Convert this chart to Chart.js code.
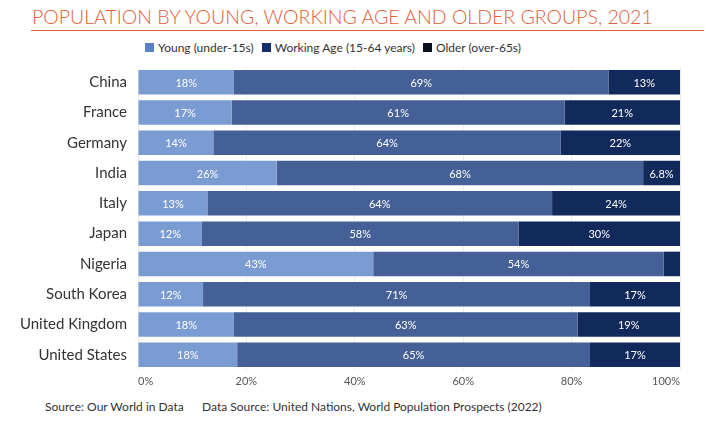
<!DOCTYPE html>
<html>
<head>
<meta charset="utf-8">
<script src="https://cdn.jsdelivr.net/npm/chart.js@4/dist/chart.umd.min.js"></script>
<style>
  html, body { margin: 0; padding: 0; background: #fff; }
  body { width: 706px; height: 428px; position: relative; overflow: hidden; font-family: Lato, "Open Sans", sans-serif; }
  #title { position: absolute; left: 32px; top: 5px; font-size: 19.5px; font-weight: 300; color: #e2613d; white-space: nowrap; }
  #rule { position: absolute; left: 31px; right: 2px; top: 30px; height: 1px; background: #e2613d; }
  #legend { position: absolute; top: 40px; left: 145px; display: flex; font-size: 12px; color: #333; white-space: nowrap; }
  #legend .it { display: flex; align-items: center; margin-right: 8px; }
  #legend .sw { width: 9px; height: 9px; margin-right: 4px; }
  #wrap { position: absolute; left: 0; top: 47px; width: 706px; height: 343px; }
  #foot { position: absolute; left: 45px; top: 399px; font-size: 12px; color: #333; white-space: pre; }
</style>
</head>
<body>
<div id="title">POPULATION BY YOUNG, WORKING AGE AND OLDER GROUPS, 2021</div>
<div id="rule"></div>
<div id="legend"></div>
<div id="wrap"><canvas id="c"></canvas></div>
<div id="foot">Source: Our World in Data      Data Source: United Nations, World Population Prospects (2022)</div>
<script>
const countries = ["China","France","Germany","India","Italy","Japan","Nigeria","South Korea","United Kingdom","United States"];
const young   = [17.7, 17.3, 13.9, 25.6, 12.8, 11.8, 43.4, 12.0, 17.7, 18.3];
const working = [69.1, 61.4, 64.1, 67.6, 63.6, 58.4, 53.6, 71.4, 63.4, 65.1];
const older   = [13.2, 21.3, 22.0,  6.8, 23.6, 29.8,  3.0, 16.6, 18.9, 16.6];
const seriesNames = ["Young (under-15s)", "Working Age (15-64 years)", "Older (over-65s)"];
const xTicks = [0, 20, 40, 60, 80, 100];

const barColors = ["#7b9bd3", "#455f97", "#112a5b"];
const legendColors = ["#5b80c3", "#132d69", "#0b0e1e"];

const lg = document.getElementById('legend');
seriesNames.forEach((n, i) => {
  const d = document.createElement('div'); d.className = 'it';
  const s = document.createElement('span'); s.className = 'sw'; s.style.background = legendColors[i];
  const t = document.createElement('span'); t.textContent = n;
  d.appendChild(s); d.appendChild(t); lg.appendChild(d);
});

function fmt(v) { return v < 10 ? v.toFixed(1) + '%' : Math.round(v) + '%'; }

const labelPlugin = {
  id: 'segLabels',
  afterDatasetsDraw(chart) {
    const ctx = chart.ctx;
    ctx.save();
    ctx.fillStyle = '#ffffff';
    ctx.font = '11px Lato, sans-serif';
    ctx.textAlign = 'center';
    ctx.textBaseline = 'middle';
    chart.data.datasets.forEach((ds, di) => {
      const meta = chart.getDatasetMeta(di);
      meta.data.forEach((bar, i) => {
        const v = ds.data[i];
        if (v < 5) return;
        const cx = (bar.x + bar.base) / 2;
        ctx.fillText(fmt(v), cx, bar.y + 1);
      });
    });
    ctx.restore();
  }
};

new Chart(document.getElementById('c'), {
  type: 'bar',
  data: {
    labels: countries,
    datasets: [
      { label: seriesNames[0], data: young, backgroundColor: barColors[0] },
      { label: seriesNames[1], data: working, backgroundColor: barColors[1] },
      { label: seriesNames[2], data: older, backgroundColor: barColors[2] }
    ]
  },
  options: {
    indexAxis: 'y',
    responsive: true,
    maintainAspectRatio: false,
    animation: false,
    layout: { padding: { top: 6, right: 26, left: 0, bottom: 0 } },
    datasets: { bar: { barPercentage: 0.81, categoryPercentage: 1.0, borderWidth: 0 } },
    plugins: { legend: { display: false }, tooltip: { enabled: false } },
    scales: {
      x: {
        stacked: true, min: 0, max: 100,
        z: 1,
        afterBuildTicks(scale) { scale.ticks = xTicks.map(v => ({ value: v })); },
        afterFit(scale) { scale.height = 20; },
        grid: { color: 'rgba(0,0,0,0.07)', drawTicks: false },
        border: { display: false },
        ticks: { align: 'inner', padding: 5, color: '#555', font: { family: 'Lato', size: 11 }, callback: v => v + '%' }
      },
      y: {
        stacked: true,
        afterFit(scale) { scale.width = 138; },
        grid: { display: false, drawTicks: false },
        border: { display: false },
        ticks: { padding: 11, color: '#333', font: { family: 'Lato', size: 15 } }
      }
    }
  },
  plugins: [labelPlugin]
});
</script>
</body>
</html>
